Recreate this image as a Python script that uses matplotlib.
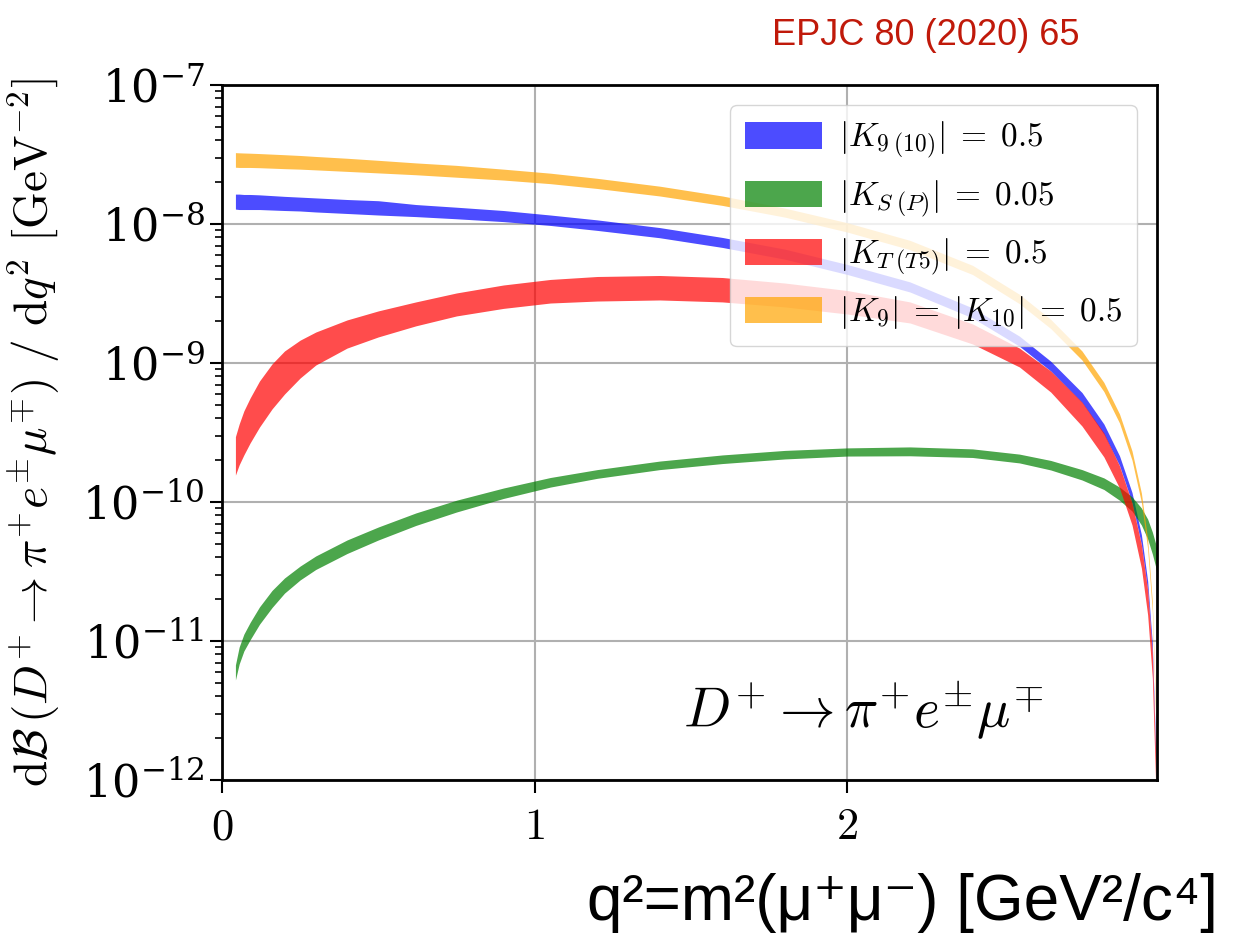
import matplotlib
matplotlib.use("Agg")
import matplotlib.pyplot as plt
import numpy as np
from matplotlib.ticker import NullFormatter, FixedLocator, LogFormatterSciNotation

plt.rcParams['mathtext.fontset'] = 'cm'
plt.rcParams['font.family'] = ['DejaVu Serif']

# q^2 grid [GeV^2]
q2 = [0.043, 0.055, 0.07, 0.09, 0.12, 0.16, 0.2, 0.25, 0.3, 0.4, 0.5, 0.62, 0.75,
      0.9, 1.05, 1.2, 1.4, 1.6, 1.8, 2.0, 2.2, 2.4, 2.55, 2.65, 2.75, 2.82, 2.87,
      2.91, 2.94, 2.96, 2.975, 2.985, 2.99]

# |K_9(10)| = 0.5  (upper / lower edge of band)
k910_hi = [1.64e-8, 1.64e-8, 1.63e-8, 1.63e-8, 1.62e-8, 1.60e-8, 1.58e-8, 1.56e-8,
           1.54e-8, 1.50e-8, 1.47e-8, 1.38e-8, 1.32e-8, 1.25e-8, 1.16e-8, 1.07e-8,
           9.42e-9, 8.00e-9, 6.59e-9, 5.11e-9, 3.83e-9, 2.49e-9, 1.56e-9, 1.03e-9,
           6.13e-10, 3.64e-10, 2.15e-10, 1.17e-10, 5.82e-11, 2.70e-11, 9.52e-12,
           1.85e-12, 6e-14]
k910_lo = [1.28e-8, 1.27e-8, 1.27e-8, 1.27e-8, 1.27e-8, 1.26e-8, 1.25e-8, 1.24e-8,
           1.22e-8, 1.19e-8, 1.16e-8, 1.13e-8, 1.09e-8, 1.04e-8, 9.76e-9, 8.99e-9,
           7.96e-9, 6.78e-9, 5.58e-9, 4.33e-9, 3.24e-9, 2.11e-9, 1.32e-9, 8.76e-10,
           5.20e-10, 3.08e-10, 1.83e-10, 9.92e-11, 4.94e-11, 2.31e-11, 8.06e-12,
           1.56e-12, 5e-14]

# |K_S(P)| = 0.05
ksp_hi = [6.72e-12, 9.05e-12, 1.12e-11, 1.36e-11, 1.76e-11, 2.31e-11, 2.84e-11, 3.46e-11,
          4.09e-11, 5.33e-11, 6.61e-11, 8.34e-11, 1.03e-10, 1.26e-10, 1.50e-10, 1.71e-10,
          1.97e-10, 2.18e-10, 2.35e-10, 2.45e-10, 2.49e-10, 2.41e-10, 2.21e-10, 1.99e-10,
          1.71e-10, 1.49e-10, 1.28e-10, 1.09e-10, 9.05e-11, 7.54e-11, 6.08e-11, 5.07e-11,
          4.52e-11]
ksp_lo = [5.24e-12, 6.83e-12, 8.47e-12, 1.02e-11, 1.32e-11, 1.74e-11, 2.21e-11, 2.75e-11,
          3.27e-11, 4.26e-11, 5.33e-11, 6.78e-11, 8.47e-11, 1.06e-10, 1.28e-10, 1.48e-10,
          1.71e-10, 1.89e-10, 2.04e-10, 2.14e-10, 2.15e-10, 2.09e-10, 1.91e-10, 1.70e-10,
          1.44e-10, 1.23e-10, 1.03e-10, 8.61e-11, 6.83e-11, 5.42e-11, 4.23e-11, 3.46e-11,
          2.98e-11]

# |K_T(T5)| = 0.5
kt_hi = [2.95e-10, 3.64e-10, 4.52e-10, 5.60e-10, 7.42e-10, 9.84e-10, 1.22e-9, 1.46e-9,
         1.67e-9, 2.04e-9, 2.37e-9, 2.75e-9, 3.19e-9, 3.64e-9, 3.99e-9, 4.19e-9,
         4.26e-9, 4.12e-9, 3.76e-9, 3.32e-9, 2.75e-9, 1.91e-9, 1.28e-9, 8.76e-10,
         5.24e-10, 3.14e-10, 1.82e-10, 9.84e-11, 4.91e-11, 2.31e-11, 8.20e-12,
         1.59e-12, 4e-14]
kt_lo = [1.56e-10, 1.85e-10, 2.18e-10, 2.66e-10, 3.46e-10, 4.67e-10, 5.98e-10, 7.80e-10,
         9.67e-10, 1.28e-9, 1.54e-9, 1.85e-9, 2.18e-9, 2.47e-9, 2.70e-9, 2.79e-9,
         2.84e-9, 2.75e-9, 2.53e-9, 2.25e-9, 1.94e-9, 1.37e-9, 9.36e-10, 6.18e-10,
         3.52e-10, 2.11e-10, 1.26e-10, 6.83e-11, 3.35e-11, 1.54e-11, 5.42e-12,
         1.03e-12, 3e-14]

# |K_9| = |K_10| = 0.5
k9k10_hi = [3.26e-8, 3.25e-8, 3.24e-8, 3.23e-8, 3.21e-8, 3.18e-8, 3.15e-8, 3.11e-8,
            3.06e-8, 2.97e-8, 2.87e-8, 2.75e-8, 2.64e-8, 2.48e-8, 2.32e-8, 2.13e-8,
            1.87e-8, 1.59e-8, 1.30e-8, 1.02e-8, 7.62e-9, 5.04e-9, 3.12e-9, 2.06e-9,
            1.22e-9, 7.25e-10, 4.30e-10, 2.33e-10, 1.16e-10, 5.38e-11, 1.90e-11,
            3.68e-12, 1.2e-13]
k9k10_lo = [2.56e-8, 2.55e-8, 2.55e-8, 2.55e-8, 2.54e-8, 2.52e-8, 2.50e-8, 2.48e-8,
            2.45e-8, 2.39e-8, 2.33e-8, 2.26e-8, 2.17e-8, 2.07e-8, 1.95e-8, 1.80e-8,
            1.59e-8, 1.36e-8, 1.12e-8, 8.74e-9, 6.54e-9, 4.33e-9, 2.67e-9, 1.77e-9,
            1.05e-9, 6.23e-10, 3.70e-10, 2.00e-10, 9.95e-11, 4.62e-11, 1.63e-11,
            3.16e-12, 1.0e-13]

labels = [r'$|K_{9\;(10)}|\;=\;0.5$', r'$|K_{S\;(P)}|\;=\;0.05$',
          r'$|K_{T\;(T5)}|\;=\;0.5$', r'$|K_9|\;=\;|K_{10}|\;=\;0.5$']
colors = ['blue', 'green', 'red', 'orange']
x_ticks = [0, 1, 2]
y_ticks = [1e-12, 1e-11, 1e-10, 1e-9, 1e-8, 1e-7]
x_max = 2.99

fig = plt.figure(figsize=(12.38, 9.41), dpi=100)
ax = fig.add_axes([0.1793, 0.1711, 0.9346 - 0.1793, 0.9097 - 0.1711])

bands = [(k910_lo, k910_hi), (ksp_lo, ksp_hi), (kt_lo, kt_hi), (k9k10_lo, k9k10_hi)]
for (lo, hi), c, lab in zip(bands, colors, labels):
    ax.fill_between(q2, lo, hi, color=c, alpha=0.7, linewidth=0, label=lab)

ax.set_yscale('log')
ax.set_ylim(y_ticks[0], y_ticks[-1])
ax.set_xlim(0, x_max)
ax.xaxis.set_major_locator(FixedLocator(x_ticks))
ax.set_xticklabels([rf'${t}$' for t in x_ticks])
ax.yaxis.set_major_locator(FixedLocator(y_ticks))
ax.yaxis.set_major_formatter(LogFormatterSciNotation())
minor_y = [m * t for t in y_ticks[:-1] for m in range(2, 10)]
ax.yaxis.set_minor_locator(FixedLocator(minor_y))
ax.yaxis.set_minor_formatter(NullFormatter())
ax.tick_params(axis='both', which='major', labelsize=32, length=9, width=1.5, direction='out')
ax.tick_params(axis='y', which='minor', length=5, width=1.2, direction='out')
ax.tick_params(axis='x', pad=9)
ax.grid(True, which='major', color='#b0b0b0', linewidth=1.5)
ax.set_axisbelow(True)
for s in ax.spines.values():
    s.set_linewidth(2)

ax.set_ylabel(r'$\mathrm{d}\mathcal{B}\,(D^{+}\to\pi^{+}e^{\pm}\mu^{\mp})\ /\ \mathrm{d}q^{2}\ [\mathrm{GeV}^{-2}]$',
              fontsize=34, labelpad=14)

leg = ax.legend(loc='upper right', fontsize=24, handlelength=2.3, handleheight=0.85,
                labelspacing=0.5, handletextpad=0.5, borderpad=0.45,
                borderaxespad=0.6, framealpha=0.8)

ax.text(0.493, 0.075, r'$D^{+}\to\pi^{+}e^{\pm}\mu^{\mp}$', transform=ax.transAxes,
        fontsize=40, ha='left', va='baseline')

fig.text(0.984, 0.022, 'q²=m²(μ⁺μ⁻) [GeV²/c⁴]', ha='right', va='baseline',
         fontsize=46, family=['Liberation Sans', 'DejaVu Sans'])
fig.text(0.7475, 0.962, 'EPJC 80 (2020) 65', ha='center', va='center',
         fontsize=26, color='#c0190a', family=['Liberation Sans', 'DejaVu Sans'])

fig.savefig('out.png', dpi=100)
